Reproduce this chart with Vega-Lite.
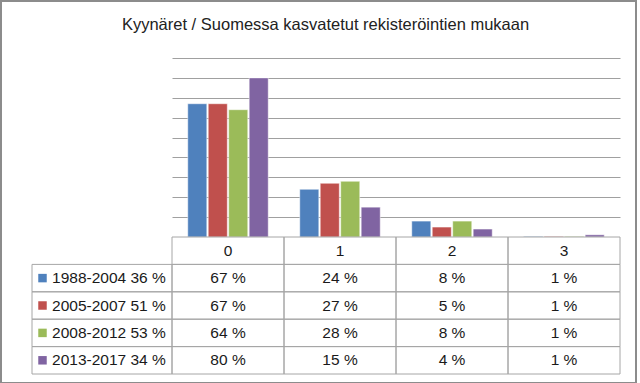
{
  "$schema": "https://vega.github.io/schema/vega-lite/v6.json",
  "width": 635,
  "height": 382,
  "autosize": "none",
  "padding": {"left": 1, "top": 1, "right": 4, "bottom": 0},
  "background": "white",
  "config": {
    "view": {"stroke": "#8c8c8c", "strokeWidth": 2},
    "font": "Liberation Sans"
  },
  "title": {
    "text": "Kyynäret / Suomessa kasvatetut rekisteröintien mukaan",
    "fontSize": 16.5,
    "fontWeight": "normal",
    "color": "#222222",
    "font": "Liberation Sans",
    "anchor": "middle",
    "frame": "group",
    "baseline": "alphabetic",
    "offset": -45,
    "dx": 7
  },
  "datasets": {
    "cells": [
      {"cat": "0", "series": "1988-2004 36 %", "value": 67, "label": "67 %"},
      {"cat": "0", "series": "2005-2007 51 %", "value": 67, "label": "67 %"},
      {"cat": "0", "series": "2008-2012 53 %", "value": 64, "label": "64 %"},
      {"cat": "0", "series": "2013-2017 34 %", "value": 80, "label": "80 %"},
      {"cat": "1", "series": "1988-2004 36 %", "value": 24, "label": "24 %"},
      {"cat": "1", "series": "2005-2007 51 %", "value": 27, "label": "27 %"},
      {"cat": "1", "series": "2008-2012 53 %", "value": 28, "label": "28 %"},
      {"cat": "1", "series": "2013-2017 34 %", "value": 15, "label": "15 %"},
      {"cat": "2", "series": "1988-2004 36 %", "value": 8, "label": "8 %"},
      {"cat": "2", "series": "2005-2007 51 %", "value": 5, "label": "5 %"},
      {"cat": "2", "series": "2008-2012 53 %", "value": 8, "label": "8 %"},
      {"cat": "2", "series": "2013-2017 34 %", "value": 4, "label": "4 %"},
      {"cat": "3", "series": "1988-2004 36 %", "value": 0.3, "label": "1 %"},
      {"cat": "3", "series": "2005-2007 51 %", "value": 0.3, "label": "1 %"},
      {"cat": "3", "series": "2008-2012 53 %", "value": 0.3, "label": "1 %"},
      {"cat": "3", "series": "2013-2017 34 %", "value": 1.1, "label": "1 %"}
    ],
    "cats": [{"cat": "0"}, {"cat": "1"}, {"cat": "2"}, {"cat": "3"}],
    "series": [
      {"series": "1988-2004 36 %"},
      {"series": "2005-2007 51 %"},
      {"series": "2008-2012 53 %"},
      {"series": "2013-2017 34 %"}
    ]
  },
  "layer": [
    {
      "data": {"name": "cells"},
      "mark": {"type": "bar", "stroke": "#ffffff", "strokeWidth": 0.6, "strokeOpacity": 0.8},
      "encoding": {
        "x": {
          "field": "cat", "type": "nominal",
          "scale": {"domain": ["0", "1", "2", "3"], "range": [171, 619], "paddingInner": 0, "paddingOuter": 0},
          "axis": null
        },
        "xOffset": {
          "field": "series", "type": "nominal",
          "scale": {"domain": ["1988-2004 36 %", "2005-2007 51 %", "2008-2012 53 %", "2013-2017 34 %"], "paddingInner": 0.07, "paddingOuter": 0.77}
        },
        "y": {
          "field": "value", "type": "quantitative",
          "scale": {"domain": [0, 90], "range": [236, 57], "nice": false, "zero": true},
          "axis": {"values": [10, 20, 30, 40, 50, 60, 70, 80, 90], "labels": false, "ticks": false, "domain": false, "grid": true, "gridColor": "#a0a0a0", "gridWidth": 1, "title": null}
        },
        "color": {
          "field": "series", "type": "nominal",
          "scale": {"domain": ["1988-2004 36 %", "2005-2007 51 %", "2008-2012 53 %", "2013-2017 34 %"], "range": ["#4F81BD", "#C0504D", "#9BBB59", "#8064A2"]},
          "legend": null
        }
      }
    },
    {
      "encoding": {
        "x": {
          "field": "cat", "type": "nominal",
          "scale": {"domain": ["0", "1", "2", "3"], "range": [171, 619], "paddingInner": 0, "paddingOuter": 0},
          "axis": null
        }
      },
      "layer": [
        {
          "data": {"name": "cats"},
          "mark": {"type": "rect", "filled": false, "stroke": "#a6a6a6", "strokeWidth": 1},
          "encoding": {
            "y": {"datum": "hdr", "type": "nominal", "scale": {"domain": ["hdr", "1988-2004 36 %", "2005-2007 51 %", "2008-2012 53 %", "2013-2017 34 %"], "range": [236, 373], "paddingInner": 0, "paddingOuter": 0}, "axis": null}
          }
        },
        {
          "data": {"name": "cats"},
          "mark": {"type": "text", "fontSize": 15.5, "color": "#1a1a1a", "baseline": "middle"},
          "encoding": {
            "y": {"datum": "hdr", "type": "nominal"},
            "text": {"field": "cat"}
          }
        },
        {
          "data": {"name": "cells"},
          "mark": {"type": "rect", "filled": false, "stroke": "#a6a6a6", "strokeWidth": 1},
          "encoding": {
            "y": {"field": "series", "type": "nominal"}
          }
        },
        {
          "data": {"name": "cells"},
          "mark": {"type": "text", "fontSize": 15.5, "color": "#1a1a1a", "baseline": "middle"},
          "encoding": {
            "y": {"field": "series", "type": "nominal"},
            "text": {"field": "label"}
          }
        }
      ]
    },
    {
      "data": {"name": "series"},
      "encoding": {
        "y": {"field": "series", "type": "nominal", "scale": {"domain": ["hdr", "1988-2004 36 %", "2005-2007 51 %", "2008-2012 53 %", "2013-2017 34 %"], "range": [236, 373], "paddingInner": 0, "paddingOuter": 0}, "axis": null}
      },
      "layer": [
        {
          "mark": {"type": "rect", "filled": false, "stroke": "#a6a6a6", "strokeWidth": 1},
          "encoding": {
            "x": {"datum": "L", "type": "nominal", "scale": {"domain": ["L"], "range": [31, 171], "paddingInner": 0, "paddingOuter": 0}, "axis": null}
          }
        },
        {
          "mark": {"type": "point", "shape": "square", "filled": true, "size": 72, "opacity": 1},
          "encoding": {
            "x": {"datum": "L", "type": "nominal", "bandPosition": 0.075},
            "color": {"field": "series", "type": "nominal", "legend": null}
          }
        },
        {
          "mark": {"type": "text", "fontSize": 15.5, "color": "#1a1a1a", "baseline": "middle", "align": "left"},
          "encoding": {
            "x": {"datum": "L", "type": "nominal", "bandPosition": 0.143},
            "text": {"field": "series"}
          }
        }
      ]
    }
  ],
  "resolve": {"scale": {"x": "independent", "y": "independent"}}
}
